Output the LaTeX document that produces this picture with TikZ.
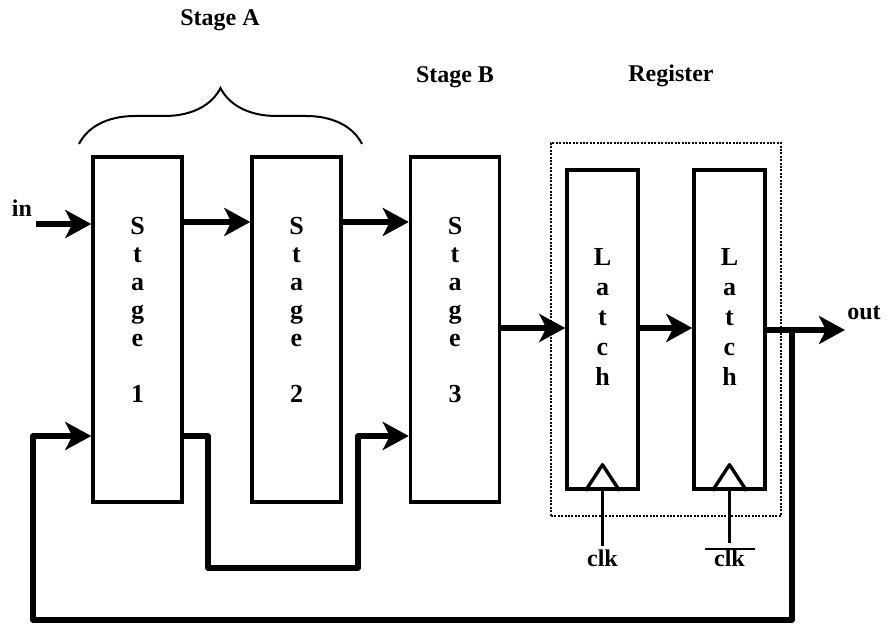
\documentclass[tikz,border=0pt]{standalone}
\usepackage{fontspec}
\setmainfont{Liberation Serif}
\usetikzlibrary{arrows.meta,decorations.pathreplacing}
\begin{document}
\begin{tikzpicture}[x=0.5pt,y=-0.5pt,
  every node/.style={font=\fontsize{12}{14}\selectfont\bfseries},
  stagebox/.style={draw,line width=1.7pt,minimum width=44.5pt,minimum height=172.5pt,inner sep=0pt},
  latchbox/.style={draw,line width=1.7pt,minimum width=35.5pt,minimum height=159.5pt,inner sep=0pt},
  letters/.style={align=center,anchor=north,inner sep=0pt},
  flow/.style={line width=2.6pt,line join=round,-{Stealth[length=13pt,width=14pt,inset=3.5pt]}},
  wire/.style={line width=2.6pt,line join=round},
  thin/.style={line width=1.7pt,line join=round}]
\useasboundingbox (0,0) rectangle (891,624);

% stage A (stages 1 and 2) and stage B (stage 3)
\node[stagebox] (s1) at (137.5,329.5) {};
\node[stagebox] (s2) at (296.5,329.5) {};
\node[stagebox] (s3) at (455,329.5) {};
\node[letters,font=\fontsize{13}{14}\selectfont\bfseries] (t1) at (137.5,217) {S\\t\\a\\g\\e\\[14pt]1};
\node[letters,font=\fontsize{13}{14}\selectfont\bfseries] (t2) at (296.5,217) {S\\t\\a\\g\\e\\[14pt]2};
\node[letters,font=\fontsize{13}{14}\selectfont\bfseries] (t3) at (455,217) {S\\t\\a\\g\\e\\[14pt]3};

% register with two latches
\node[draw,line width=1pt,dash pattern=on 1pt off 0.7pt,minimum width=115pt,minimum height=186.5pt,inner sep=0pt] (reg) at (666,329.5) {};
\node[latchbox] (l1) at (602.5,329.5) {};
\node[latchbox] (l2) at (729.5,329.5) {};
\node[letters,font=\fontsize{13}{15}\selectfont\bfseries] (u1) at (602.5,248) {L\\a\\t\\c\\h};
\node[letters,font=\fontsize{13}{15}\selectfont\bfseries] (u2) at (729.5,248) {L\\a\\t\\c\\h};

% clock inputs
\draw[thin] ([xshift=-8.5pt]l1.south) -- ([yshift=13pt]l1.south) -- ([xshift=8.5pt]l1.south);
\draw[thin] ([xshift=-8.5pt]l2.south) -- ([yshift=13pt]l2.south) -- ([xshift=8.5pt]l2.south);
\node[anchor=base,inner sep=2pt] (clk1) at (602.5,567) {clk};
\node[anchor=base,inner sep=2pt] (clk2) at (729.5,567) {\ooalign{\rule[8.6pt]{25pt}{1.1pt}\cr\hfil clk\hfil}};
\draw[thin] (l1.south) -- (clk1.north);
\draw[thin] (l2.south) -- (clk2.north);

% labels
\node (stA) at (220,20) {Stage A};
\node (stB) at (455,77) {Stage B};
\node (regl) at (671,76) {Register};
\node (inl) at (22,208) {in};
\node (outl) at (864,313) {out};
\draw[line width=1pt,decorate,decoration={brace,amplitude=28pt}] (79,144) -- (362,144);

% data path
\coordinate (in) at (36,224);
\coordinate (out) at (845,330);
\coordinate (fb) at (792,330);
\draw[flow] (in) -- (s1.west |- in);
\draw[flow] (s1.east |- 0,222) -- (s2.west |- 0,222);
\draw[flow] (s2.east |- 0,222) -- (s3.west |- 0,222);
\draw[flow] (s3.east |- 0,328) -- (l1.west |- 0,328);
\draw[flow] (l1.east |- 0,328) -- (l2.west |- 0,328);
\draw[flow] (l2.east |- out) -- (out);

% bypass and feedback
\draw[flow] (s1.east |- 0,436) -| (208,568) -| (358,436) -- (s3.west |- 0,436);
\draw[flow] (fb) |- (33,620) |- (s1.west |- 0,436);
\end{tikzpicture}
\end{document}
